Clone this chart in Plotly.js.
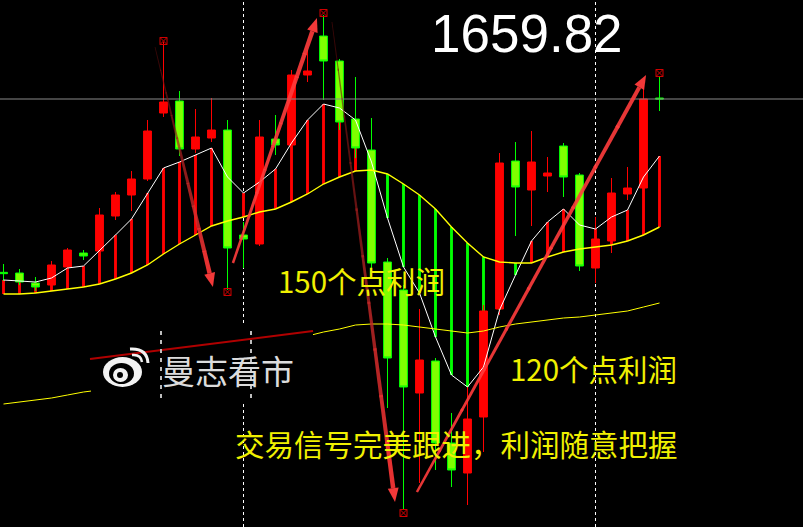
<!DOCTYPE html>
<html>
<head>
<meta charset="utf-8">
<script src="https://cdn.plot.ly/plotly-3.0.1.min.js"></script>
<style>
  html, body { margin: 0; padding: 0; background: #000; }
  #chart { width: 803px; height: 527px; }
</style>
</head>
<body>
<div id="chart"></div>
<script>
// ---- price data (one bar per index) ----
const open = [
  1654.62, 1654.60, 1654.30, 1654.24, 1654.78, 1655.20, 1655.26, 1656.31, 1656.94, 1657.42,
  1659.40, 1659.76, 1658.32, 1658.65, 1658.89, 1655.74, 1655.47, 1658.62, 1658.44, 1660.54,
  1661.71, 1660.96, 1659.22, 1658.29, 1654.93, 1654.09, 1651.00, 1651.96, 1649.50, 1648.60,
  1650.28, 1653.52, 1657.96, 1657.09, 1657.51, 1658.41, 1657.54, 1654.75, 1655.56, 1656.97,
  1657.15, 1659.85];
const high = [
  1654.87, 1654.72, 1654.48, 1654.96, 1655.35, 1655.29, 1656.55, 1657.03, 1657.66, 1659.19,
  1661.53, 1660.06, 1659.52, 1659.85, 1659.19, 1656.13, 1659.19, 1659.34, 1660.69, 1661.29,
  1662.34, 1661.02, 1660.48, 1659.25, 1655.05, 1654.24, 1653.52, 1652.05, 1650.40, 1651.18,
  1653.64, 1658.20, 1658.53, 1658.86, 1658.08, 1658.50, 1657.60, 1656.28, 1657.45, 1657.78,
  1660.24, 1660.48];
const low = [
  1654.36, 1654.24, 1654.06, 1654.12, 1654.69, 1654.99, 1655.17, 1656.19, 1656.46, 1657.36,
  1659.28, 1658.11, 1658.20, 1658.53, 1654.09, 1654.75, 1655.41, 1658.14, 1658.29, 1660.33,
  1659.79, 1658.89, 1658.05, 1654.63, 1650.55, 1647.49, 1648.30, 1648.69, 1648.18, 1647.64,
  1649.23, 1653.34, 1655.71, 1656.01, 1657.03, 1656.88, 1654.66, 1654.30, 1655.20, 1656.79,
  1657.03, 1659.46];
const close = [
  1654.58, 1654.33, 1654.18, 1654.84, 1655.29, 1655.11, 1656.34, 1656.94, 1657.42, 1658.86,
  1659.73, 1658.32, 1658.68, 1658.89, 1655.35, 1655.62, 1658.68, 1658.44, 1660.54, 1660.66,
  1660.96, 1659.13, 1658.35, 1654.90, 1652.05, 1651.18, 1651.99, 1649.50, 1648.69, 1650.22,
  1653.46, 1657.90, 1657.18, 1657.93, 1657.60, 1657.48, 1654.81, 1655.62, 1657.00, 1657.15,
  1659.82, 1659.82];

// ---- moving averages ----
const maFast = [
  1654.39, 1654.36, 1654.33, 1654.45, 1654.75, 1654.81, 1655.26, 1655.74, 1656.22, 1657.00,
  1657.75, 1657.93, 1658.14, 1658.35, 1657.48, 1657.00, 1657.33, 1657.72, 1658.50, 1659.19,
  1659.67, 1659.55, 1659.19, 1657.93, 1656.25, 1654.78, 1654.00, 1652.68, 1651.54, 1651.18,
  1651.78, 1653.49, 1654.54, 1655.56, 1656.13, 1656.52, 1656.04, 1655.92, 1656.28, 1656.49,
  1657.48, 1658.11];
const maSlow = [
  1653.97, 1653.97, 1654.00, 1654.06, 1654.12, 1654.18, 1654.27, 1654.42, 1654.60, 1654.84,
  1655.17, 1655.47, 1655.74, 1656.01, 1656.16, 1656.28, 1656.43, 1656.52, 1656.73, 1656.97,
  1657.27, 1657.48, 1657.66, 1657.69, 1657.57, 1657.27, 1656.94, 1656.52, 1655.98, 1655.50,
  1655.08, 1654.93, 1654.90, 1654.90, 1655.08, 1655.23, 1655.32, 1655.38, 1655.44, 1655.56,
  1655.74, 1655.98];
const maLong = [
  1650.67, 1650.73, 1650.79, 1650.85, 1650.94, 1651.03, 1651.09,
  null, null, null, null, null, null, null, null, null, null, null, null,
  1652.71, 1652.83, 1652.92, 1653.04, 1653.07, 1653.07, 1653.04, 1652.98, 1652.92, 1652.86,
  1652.80, 1652.86, 1652.98, 1653.07, 1653.13, 1653.19, 1653.25, 1653.28, 1653.34, 1653.40,
  1653.46, 1653.58, 1653.70];

// ---- session separators and trade signals ----
const separatorBars = [15, 37];
const signalBars = [10, 14, 20, 25, 41];
const signalPrices = [1661.56, 1654.03, 1662.40, 1647.40, 1660.60];

// ---- texts ----
const profitNotes = ['150个点利润', '120个点利润', '交易信号完美跟进，利润随意把握'];
const brandName = '曼志看市';

const bars = open.map((_, i) => i);

// ---- geometry helpers ----
const W = 803, H = 527;
const xRange = [-0.21875, 49.96875];
const yRange = [1646.98, 1662.79];
const pxX = i => (i - xRange[0]) / (xRange[1] - xRange[0]) * W;
const pxY = p => (yRange[1] - p) / (yRange[1] - yRange[0]) * H;
const paper = (x, y) => [x / W, 1 - y / H];
const fmt = v => v.toFixed(5);
function pathOf(points) {
  return points.map((p, k) => {
    const q = paper(p[0], p[1]);
    return (k ? 'L' : 'M') + fmt(q[0]) + ',' + fmt(q[1]);
  }).join(' ') + ' Z';
}
function mix(a, b, t) { return a + (b - a) * t; }

// ---- traces ----
const candles = {
  type: 'candlestick', x: bars, open, high, low, close,
  increasing: { line: { color: '#ff0000', width: 1 }, fillcolor: '#ff0000' },
  decreasing: { line: { color: '#00ff00', width: 1 }, fillcolor: '#7fff00' },
  whiskerwidth: 0, hoverinfo: 'skip', showlegend: false
};

const gap = maFast.map((v, i) => +(v - maSlow[i]).toFixed(2));
const histogram = {
  type: 'bar', x: bars, y: gap, base: maSlow, width: 0.18,
  marker: { color: gap.map(g => g >= 0 ? '#ff0000' : '#00ff00'), line: { width: 0 } },
  hoverinfo: 'skip', showlegend: false
};

const fastLine = { type: 'scatter', mode: 'lines', x: bars, y: maFast,
  line: { color: '#ffffff', width: 1 }, hoverinfo: 'skip', showlegend: false };
const slowLine = { type: 'scatter', mode: 'lines', x: bars, y: maSlow,
  line: { color: '#ffff00', width: 1.4 }, hoverinfo: 'skip', showlegend: false };
const longLine = { type: 'scatter', mode: 'lines', x: bars, y: maLong, connectgaps: false,
  line: { color: '#ffff00', width: 1 }, hoverinfo: 'skip', showlegend: false };

const signals = { type: 'scatter', mode: 'markers', x: signalBars, y: signalPrices,
  marker: { symbol: 'square-x-open', size: 7, color: '#d00000', line: { width: 1, color: '#d00000' } },
  hoverinfo: 'skip', showlegend: false };

// ---- shapes ----
const shapes = [];

separatorBars.forEach(b => shapes.push({
  type: 'line', xref: 'x', yref: 'paper', x0: b, x1: b, y0: 0, y1: 1, layer: 'below',
  line: { color: '#ffffff', width: 1, dash: '3px,3px' }
}));

// bid line at the last close
const lastClose = close[close.length - 1];
shapes.push({ type: 'line', xref: 'paper', yref: 'y', x0: 0, x1: 1, y0: lastClose, y1: lastClose,
  layer: 'above', line: { color: '#8a8a8a', width: 1 } });

// watermark panel
const box = [[91, 326], [313, 326], [313, 401], [91, 401]];
shapes.push({ type: 'path', xref: 'paper', yref: 'paper', path: pathOf(box), layer: 'above',
  fillcolor: '#000000', line: { width: 0 } });
const tl0 = paper(90, 359), tl1 = paper(313, 331);
shapes.push({ type: 'line', xref: 'paper', yref: 'paper', x0: tl0[0], y0: tl0[1], x1: tl1[0], y1: tl1[1],
  layer: 'above', line: { color: '#b00000', width: 2 } });
[161, 251].forEach(x => {
  const a = paper(x, 331), b = paper(x, 400);
  shapes.push({ type: 'line', xref: 'paper', yref: 'paper', x0: a[0], y0: a[1], x1: b[0], y1: b[1],
    layer: 'above', line: { color: '#bdbdbd', width: 2, dash: '4px,5px' } });
});

// weibo-style logo
function ellipse(x0, y0, x1, y1, color) {
  const a = paper(x0, y1), b = paper(x1, y0);
  shapes.push({ type: 'circle', xref: 'paper', yref: 'paper', x0: a[0], y0: a[1], x1: b[0], y1: b[1],
    layer: 'above', fillcolor: color, line: { width: 0 } });
}
ellipse(103, 357, 142, 387, '#f2f2f2');
ellipse(109, 363, 134, 384, '#000000');
ellipse(113, 368, 128, 382, '#f2f2f2');
ellipse(117, 372, 123, 378, '#000000');
function curve(p0, c, p1, width) {
  const a = paper(p0[0], p0[1]), q = paper(c[0], c[1]), b = paper(p1[0], p1[1]);
  shapes.push({ type: 'path', xref: 'paper', yref: 'paper', layer: 'above',
    path: 'M' + fmt(a[0]) + ',' + fmt(a[1]) + ' Q' + fmt(q[0]) + ',' + fmt(q[1]) + ' ' + fmt(b[0]) + ',' + fmt(b[1]),
    line: { color: '#f2f2f2', width: width } });
}
curve([130, 349], [147, 348], [148, 363], 3);
curve([132, 355], [141, 354], [142, 362], 2.5);

// signal arrows, drawn from entry toward the next turning point
const arrows = [
  { from: [9.47, 1661.38], to: [13.09, 1654.18], w0: 0.8, w1: 4.5, fade: true },
  { from: [14.34, 1654.90], to: [19.59, 1662.25], w0: 2.5, w1: 4.5, fade: false },
  { from: [20.53, 1662.13], to: [24.47, 1647.73], w0: 0.8, w1: 4.5, fade: true },
  { from: [25.84, 1648.03], to: [40.16, 1660.54], w0: 2.5, w1: 4.0, fade: false }
];
arrows.forEach(a => {
  const A = [pxX(a.from[0]), pxY(a.from[1])];
  const B = [pxX(a.to[0]), pxY(a.to[1])];
  const dx = B[0] - A[0], dy = B[1] - A[1];
  const len = Math.hypot(dx, dy);
  const d = [dx / len, dy / len], n = [-d[1], d[0]];
  const headLen = 14, headW = 11;
  const C = [B[0] - d[0] * headLen, B[1] - d[1] * headLen];
  const N = 10;
  for (let k = 0; k < N; k++) {
    const t0 = k / N, t1 = (k + 1.05) / N;
    const P0 = [mix(A[0], C[0], t0), mix(A[1], C[1], t0)];
    const P1 = [mix(A[0], C[0], Math.min(t1, 1)), mix(A[1], C[1], Math.min(t1, 1))];
    const h0 = mix(a.w0, a.w1, t0) / 2, h1 = mix(a.w0, a.w1, Math.min(t1, 1)) / 2;
    const tm = (k + 0.5) / N;
    const r = a.fade ? Math.round(mix(90, 255, tm)) : 255;
    const g = a.fade ? Math.round(mix(10, 55, tm)) : 60;
    const op = a.fade ? mix(0.55, 0.95, tm) : 0.9;
    shapes.push({ type: 'path', xref: 'paper', yref: 'paper', layer: 'above',
      path: pathOf([[P0[0] + n[0] * h0, P0[1] + n[1] * h0], [P1[0] + n[0] * h1, P1[1] + n[1] * h1],
                    [P1[0] - n[0] * h1, P1[1] - n[1] * h1], [P0[0] - n[0] * h0, P0[1] - n[1] * h0]]),
      fillcolor: 'rgb(' + r + ',' + g + ',' + g + ')', opacity: op, line: { width: 0 } });
  }
  shapes.push({ type: 'path', xref: 'paper', yref: 'paper', layer: 'above',
    path: pathOf([B, [C[0] + n[0] * headW / 2, C[1] + n[1] * headW / 2], [C[0] - n[0] * headW / 2, C[1] - n[1] * headW / 2]]),
    fillcolor: 'rgb(255,60,60)', opacity: 0.95, line: { width: 0 } });
});

// ---- annotations ----
function label(text, x, y, size, color, family) {
  const p = paper(x, y);
  return { xref: 'paper', yref: 'paper', x: p[0], y: p[1], xanchor: 'center', yanchor: 'middle',
    text: text, showarrow: false, font: { size: size, color: color, family: family } };
}
const cjk = '"Noto Sans CJK SC", "Noto Sans", sans-serif';
const annotations = [
  label(lastClose.toFixed(2), 527, 33, 53, '#ffffff', '"Liberation Sans", Arial, sans-serif'),
  label(profitNotes[0], 361, 280, 29.5, '#f0f000', cjk),
  label(profitNotes[1], 593, 368, 29.5, '#f0f000', cjk),
  label(profitNotes[2], 456, 443, 29.5, '#f0f000', cjk),
  label(brandName, 228, 370, 33, '#dcdcdc', cjk)
];

const layout = {
  width: W, height: H,
  margin: { l: 0, r: 0, t: 0, b: 0, pad: 0 },
  paper_bgcolor: '#000000', plot_bgcolor: '#000000',
  showlegend: false,
  xaxis: { range: xRange, visible: false, fixedrange: true, rangeslider: { visible: false } },
  yaxis: { range: yRange, visible: false, fixedrange: true },
  shapes: shapes,
  annotations: annotations
};

Plotly.newPlot('chart', [candles, histogram, fastLine, slowLine, longLine, signals], layout,
  { staticPlot: true, displayModeBar: false });
</script>
</body>
</html>
